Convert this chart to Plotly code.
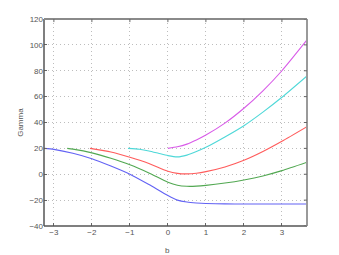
import plotly.graph_objects as go

# Data
b_blue = [-3.26, -3, -2.5, -2, -1.5, -1, -0.5, 0, 0.25, 0.5, 0.75, 1, 1.5, 2, 3, 3.66]
g_blue = [20, 19.2, 16.2, 12, 6.3, 0, -8, -16.5, -20, -21.5, -22.2, -22.6, -22.9, -23, -23, -23]

b_green = [-2.65, -2.5, -2, -1.5, -1, -0.5, 0, 0.25, 0.5, 0.75, 1, 1.5, 2, 2.5, 3, 3.66]
g_green = [20, 19.4, 16.5, 12.3, 7.3, 1, -6.2, -8.5, -9.3, -9.2, -8.6, -6.8, -4.4, -1.3, 2.8, 9.3]

b_red = [-2.05, -1.5, -1, -0.5, 0, 0.25, 0.5, 0.75, 1, 1.5, 2, 2.5, 3, 3.66]
g_red = [20, 17.2, 13.1, 8.3, 2.3, 0.7, 0.3, 0.8, 2, 5.6, 10.8, 17.6, 25.5, 36.8]

b_cyan = [-1.05, -0.75, -0.5, -0.25, 0, 0.25, 0.5, 0.75, 1, 1.5, 2, 2.5, 3, 3.66]
g_cyan = [20, 19.3, 18, 16.2, 14.4, 13.4, 14.8, 17.5, 20.8, 28.8, 37.5, 48, 59.5, 76]

b_mag = [0, 0.25, 0.5, 0.75, 1, 1.5, 2, 2.5, 3, 3.66]
g_mag = [20, 21.2, 23.3, 26.5, 30.3, 39.5, 51, 64.5, 80, 103.8]

x_ticks = [-3, -2, -1, 0, 1, 2, 3]
y_ticks = [-40, -20, 0, 20, 40, 60, 80, 100, 120]

series = [
    (b_blue, g_blue, "#6262f4"),
    (b_green, g_green, "#52a852"),
    (b_red, g_red, "#ff5c5c"),
    (b_cyan, g_cyan, "#4fd8d8"),
    (b_mag, g_mag, "#d85ae8"),
]

fig = go.Figure()
for xs, ys, c in series:
    fig.add_trace(go.Scatter(x=xs, y=ys, mode="lines",
                             line=dict(color=c, width=1.1, shape="spline", smoothing=0.6),
                             showlegend=False, hoverinfo="skip"))

font = dict(family="Liberation Sans, Arial, sans-serif", size=8, color="#555")
fig.update_layout(
    width=339, height=255,
    margin=dict(l=44, r=32, t=19, b=29, autoexpand=False),
    paper_bgcolor="white", plot_bgcolor="white",
    font=font,
    xaxis=dict(range=[-3.26, 3.66], tickvals=x_ticks, ticks="inside", ticklen=3,
               tickcolor="#666", showgrid=True, gridcolor="#bdbdbd", griddash="1px,3px",
               gridwidth=1, zeroline=False, showline=False, automargin=False,
               tickfont=font),
    yaxis=dict(range=[-40, 120], tickvals=y_ticks, ticks="inside", ticklen=3,
               tickcolor="#666", showgrid=True, gridcolor="#bdbdbd", griddash="1px,3px",
               gridwidth=1, zeroline=False, showline=False, automargin=False,
               tickfont=font),
    annotations=[
        dict(text="b", xref="paper", yref="paper", x=0.471, y=-0.085, yanchor="top",
             showarrow=False, font=font),
        dict(text="Gamma", xref="paper", yref="paper", x=-0.09, y=0.5, xanchor="center",
             textangle=-90, showarrow=False, font=font),
    ],
)
# frame: darker left/bottom, lighter top/right
fig.add_shape(type="line", xref="paper", yref="paper", x0=0, x1=0, y0=0, y1=1,
              line=dict(color="#555", width=1.5))
fig.add_shape(type="line", xref="paper", yref="paper", x0=0, x1=1, y0=0, y1=0,
              line=dict(color="#555", width=1.5))
fig.add_shape(type="line", xref="paper", yref="paper", x0=0, x1=1, y0=1, y1=1,
              line=dict(color="#8a8a8a", width=2))
fig.add_shape(type="line", xref="paper", yref="paper", x0=1, x1=1, y0=0, y1=1,
              line=dict(color="#9a9a9a", width=2))
# mirrored inside ticks on top and right
for xv in x_ticks:
    fig.add_shape(type="line", xref="x", yref="paper", x0=xv, x1=xv, y0=1, y1=0.985,
                  line=dict(color="#666", width=1))
for yv in y_ticks:
    fig.add_shape(type="line", xref="paper", yref="y", x0=1, x1=0.988, y0=yv, y1=yv,
                  line=dict(color="#666", width=1))

fig.write_html("out.html", config={"displayModeBar": False},
               post_script="document.body.style.margin='0';document.body.style.overflow='hidden';")
